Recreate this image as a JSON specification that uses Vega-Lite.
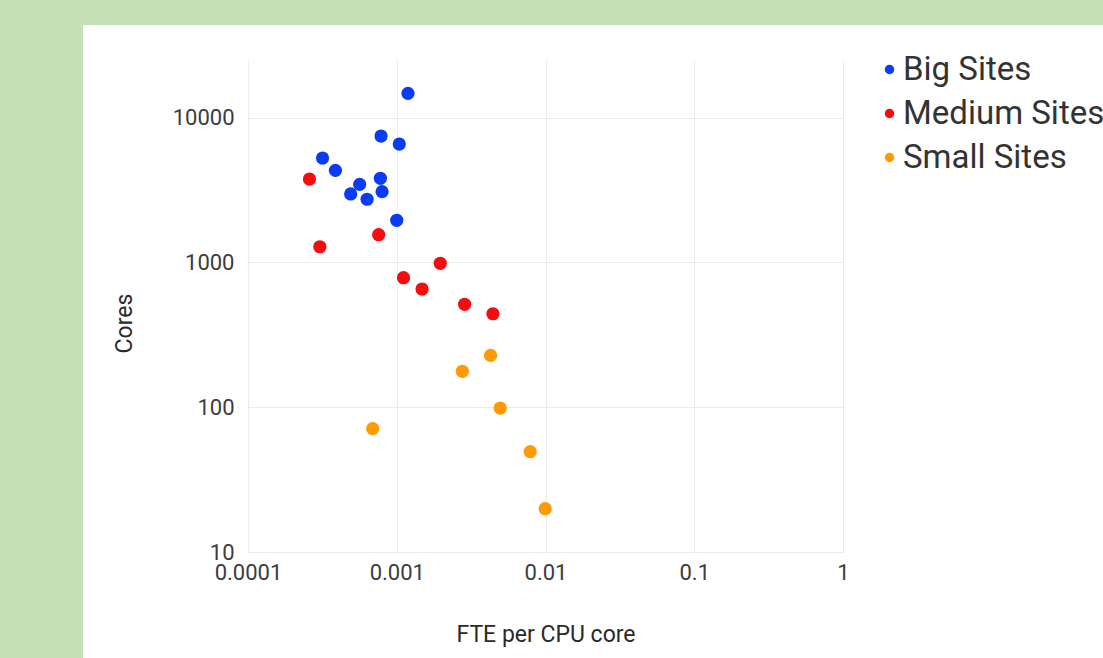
{
  "$schema": "https://vega.github.io/schema/vega-lite/v6.json",
  "background": "white",
  "padding": 0,
  "autosize": {"type": "pad"},
  "config": {"view": {"stroke": null}, "font": "Roboto"},
  "spacing": 0,
  "hconcat": [
    {"width": 83, "height": 658, "data": {"values": []}, "mark": "point", "view": {"fill": "#c5e0b4", "stroke": null}},
    {
      "spacing": 35,
      "vconcat": [
        {"width": 1020, "height": 25, "data": {"values": []}, "mark": "point", "view": {"fill": "#c5e0b4", "stroke": null}},
        {
          "spacing": 0,
          "hconcat": [
            {"width": 30, "height": 10, "data": {"values": []}, "mark": "point"},
            {
              "width": 595,
              "height": 492,
              "data": {"values": [
                {"fte": 0.00119, "cores": 14700, "category": "Big Sites"},
                {"fte": 0.000784, "cores": 7460, "category": "Big Sites"},
                {"fte": 0.00104, "cores": 6570, "category": "Big Sites"},
                {"fte": 0.000317, "cores": 5260, "category": "Big Sites"},
                {"fte": 0.000387, "cores": 4325, "category": "Big Sites"},
                {"fte": 0.000776, "cores": 3810, "category": "Big Sites"},
                {"fte": 0.000563, "cores": 3460, "category": "Big Sites"},
                {"fte": 0.000797, "cores": 3080, "category": "Big Sites"},
                {"fte": 0.00049, "cores": 2970, "category": "Big Sites"},
                {"fte": 0.000632, "cores": 2730, "category": "Big Sites"},
                {"fte": 0.001, "cores": 1954, "category": "Big Sites"},
                {"fte": 0.000259, "cores": 3767, "category": "Medium Sites"},
                {"fte": 0.000756, "cores": 1553, "category": "Medium Sites"},
                {"fte": 0.000304, "cores": 1283, "category": "Medium Sites"},
                {"fte": 0.00196, "cores": 986, "category": "Medium Sites"},
                {"fte": 0.00111, "cores": 784, "category": "Medium Sites"},
                {"fte": 0.00148, "cores": 655, "category": "Medium Sites"},
                {"fte": 0.00286, "cores": 514, "category": "Medium Sites"},
                {"fte": 0.00443, "cores": 442, "category": "Medium Sites"},
                {"fte": 0.00427, "cores": 228, "category": "Small Sites"},
                {"fte": 0.00276, "cores": 177, "category": "Small Sites"},
                {"fte": 0.00496, "cores": 98.7, "category": "Small Sites"},
                {"fte": 0.000689, "cores": 71.1, "category": "Small Sites"},
                {"fte": 0.00789, "cores": 49.3, "category": "Small Sites"},
                {"fte": 0.00995, "cores": 19.9, "category": "Small Sites"}
              ]},
              "mark": {"type": "circle", "size": 175, "opacity": 1},
              "encoding": {
                "x": {
                  "field": "fte", "type": "quantitative",
                  "scale": {"type": "log", "domain": [0.0001, 1], "nice": false},
                  "axis": {
                    "title": "FTE per CPU core", "values": [0.0001, 0.001, 0.01, 0.1, 1], "format": "~g",
                    "ticks": false, "domain": false, "grid": true, "gridColor": "#ebebeb", "gridWidth": 1, "labelFlush": false,
                    "labelFont": "Roboto", "labelFontSize": 22, "labelColor": "#3c3c3c", "labelPadding": 10,
                    "titleFont": "Roboto", "titleFontSize": 23, "titleFontWeight": "normal", "titleColor": "#2a2a2a", "titlePadding": 40
                  }
                },
                "y": {
                  "field": "cores", "type": "quantitative",
                  "scale": {"type": "log", "domain": [10, 25000], "nice": false},
                  "axis": {
                    "title": "Cores", "values": [10, 100, 1000, 10000], "format": "d",
                    "ticks": false, "domain": false, "grid": true, "gridColor": "#ebebeb", "gridWidth": 1, "labelFlush": false,
                    "labelFont": "Roboto", "labelFontSize": 22, "labelColor": "#3c3c3c", "labelPadding": 14,
                    "titleFont": "Roboto", "titleFontSize": 23, "titleFontWeight": "normal", "titleColor": "#2a2a2a", "titlePadding": 36, "titleY": 263
                  }
                },
                "color": {
                  "field": "category", "type": "nominal",
                  "scale": {"domain": ["Big Sites", "Medium Sites", "Small Sites"], "range": ["#0b3cf5", "#f50c0c", "#ff9a05"]},
                  "legend": {
                    "title": null, "orient": "none", "legendX": 873, "legendY": 53,
                    "labelFont": "Roboto", "labelFontSize": 33, "labelColor": "#333333", "labelOffset": -3, "labelLimit": 400,
                    "symbolType": "circle", "symbolSize": 90, "symbolStrokeWidth": 0, "rowPadding": 10
                  }
                }
              }
            }
          ]
        }
      ]
    }
  ]
}
